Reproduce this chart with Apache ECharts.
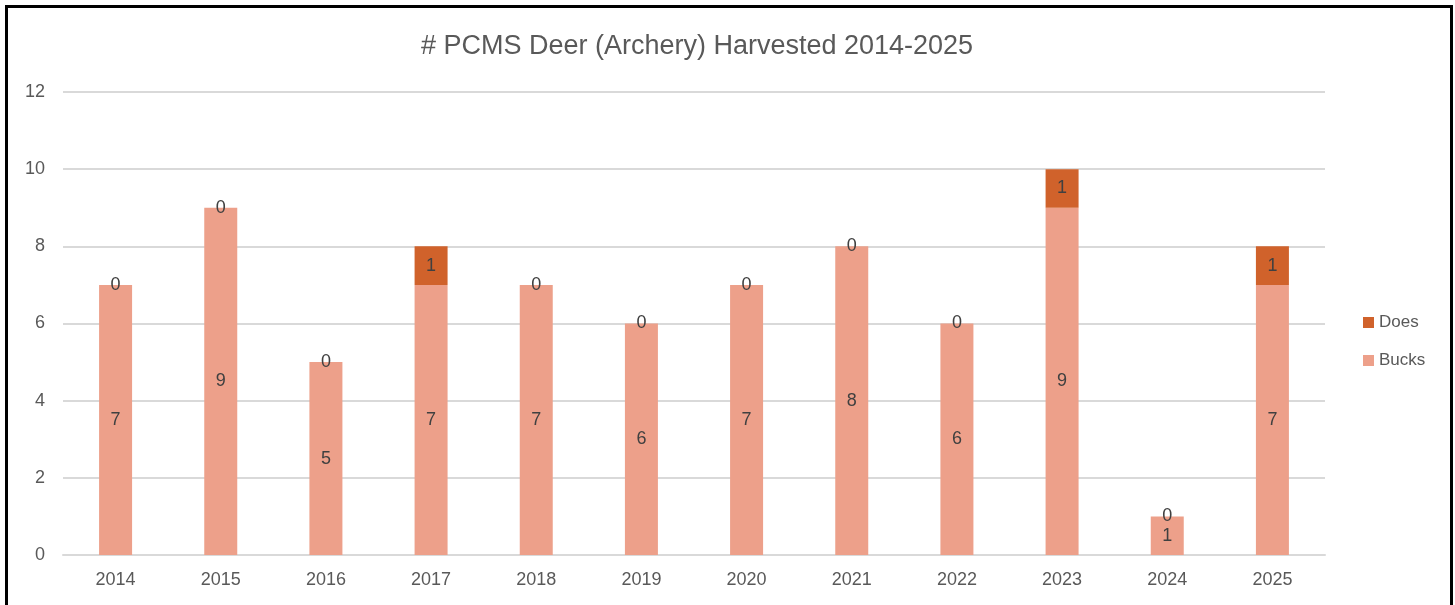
<!DOCTYPE html>
<html><head><meta charset="utf-8">
<script src="https://cdn.jsdelivr.net/npm/echarts@6/dist/echarts.min.js"></script>
<style>
html,body{margin:0;padding:0;background:#fff;}
#c{position:absolute;left:0;top:0;width:1455px;height:605px;}
#b{position:absolute;left:5px;top:5px;width:1442px;height:620px;border:3px solid #000;pointer-events:none;}
</style></head>
<body><div id="c"></div><div id="b"></div>
<script>
const years = ['2014','2015','2016','2017','2018','2019','2020','2021','2022','2023','2024','2025'];
const bucks = [7,9,5,7,7,6,7,8,6,9,1,7];
const does = [0,0,0,1,0,0,0,0,0,1,0,1];
const yTicks = {min:0, max:12, interval:2};

const FF = 'Liberation Sans, Arial, sans-serif';
const chart = echarts.init(document.getElementById('c'));
const lbl = {show:true, position:'inside', color:'#404040', fontSize:18, fontFamily:FF};
chart.setOption({
  animation:false,
  title:{text:'# PCMS Deer (Archery) Harvested 2014-2025', left:692, textAlign:'center', top:28,
    textStyle:{fontSize:27, fontWeight:'normal', color:'#595959', fontFamily:FF}},
  legend:{orient:'vertical', left:1358, top:309, itemWidth:11, itemHeight:11, itemGap:21,
    data:['Does','Bucks'], icon:'rect',
    textStyle:{fontSize:17, color:'#595959', fontFamily:FF}},
  grid:{left:63, right:130, top:92, bottom:50},
  xAxis:{type:'category', data:years,
    axisLine:{lineStyle:{color:'#d9d9d9', width:2}}, axisTick:{show:false},
    axisLabel:{color:'#595959', fontSize:18, margin:16, fontFamily:FF}},
  yAxis:{type:'value', min:yTicks.min, max:yTicks.max, interval:yTicks.interval,
    axisLine:{show:false}, axisTick:{show:false},
    splitLine:{lineStyle:{color:'#d9d9d9', width:2}},
    axisLabel:{color:'#595959', fontSize:18, margin:18, fontFamily:FF}},
  series:[
    {name:'Bucks', type:'bar', stack:'t', data:bucks, barWidth:33,
      itemStyle:{color:'#EDA08A'}, label:lbl},
    {name:'Does', type:'bar', stack:'t', data:does, barWidth:33,
      itemStyle:{color:'#D0622B'}, label:lbl}
  ]
});
</script></body></html>
